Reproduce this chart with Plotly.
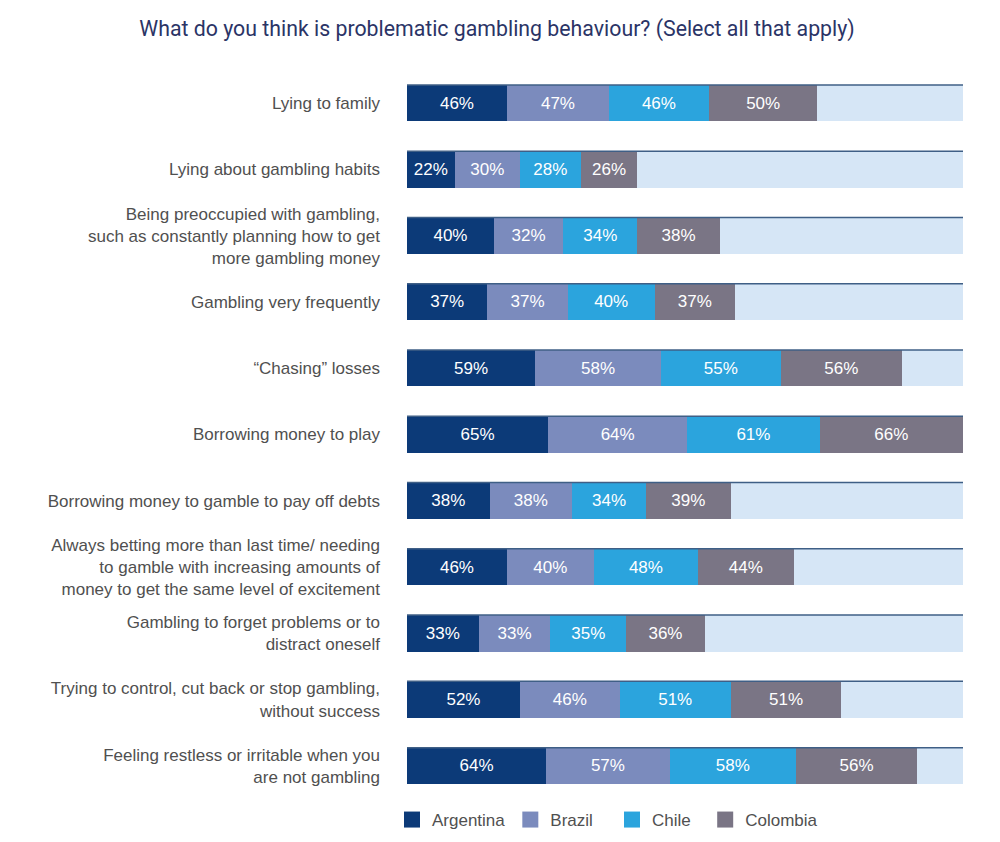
import plotly.graph_objects as go

categories = [
    "Lying to family",
    "Lying about gambling habits",
    "Being preoccupied with gambling,<br>such as constantly planning how to get<br>more gambling money",
    "Gambling very frequently",
    "\u201cChasing\u201d losses",
    "Borrowing money to play",
    "Borrowing money to gamble to pay off debts",
    "Always betting more than last time/ needing<br>to gamble with increasing amounts of<br>money to get the same level of excitement",
    "Gambling to forget problems or to<br>distract oneself",
    "Trying to control, cut back or stop gambling,<br>without success",
    "Feeling restless or irritable when you<br>are not gambling",
]
argentina = [46, 22, 40, 37, 59, 65, 38, 46, 33, 52, 64]
brazil = [47, 30, 32, 37, 58, 64, 38, 40, 33, 46, 57]
chile = [46, 28, 34, 40, 55, 61, 34, 48, 35, 51, 58]
colombia = [50, 26, 38, 37, 56, 66, 39, 44, 36, 51, 56]
series_names = ["Argentina", "Brazil", "Chile", "Colombia"]
legend_pad = [0, 3, 2, 0]  # extra spacing after each legend entry (non-breaking spaces)
colors = ["#0c3a78", "#7b8bbd", "#2ba4dd", "#7a7585"]
bg_color = "#d6e6f6"
line_color = "#3f5f86"

series = [argentina, brazil, chile, colombia]
totals = [sum(v) for v in zip(*series)]
full = max(totals)
rest = [full - t for t in totals]
ypos = list(range(len(categories)))
bw = 0.55

fig = go.Figure()
for name, vals, col in zip(series_names, series, colors):
    fig.add_trace(go.Bar(
        y=ypos, x=vals, orientation="h", name=name, width=bw,
        marker=dict(color=col, line=dict(width=0)),
        text=[f"{v}%" for v in vals], textposition="inside",
        insidetextanchor="middle", constraintext="none",
        textfont=dict(color="white", size=17, family="Liberation Sans, Arial"),
        showlegend=False, hoverinfo="skip",
    ))
fig.add_trace(go.Bar(
    y=ypos, x=rest, orientation="h", width=bw,
    marker=dict(color=bg_color, line=dict(width=0)),
    showlegend=False, hoverinfo="skip",
))
# legend entries
for name, col, pad in zip(series_names, colors, legend_pad):
    fig.add_trace(go.Scatter(
        x=[None], y=[None], mode="markers", name=name + "\u00a0" * pad,
        marker=dict(symbol="square", size=16, color=col),
    ))

for y in ypos:
    fig.add_shape(type="line", xref="x", yref="y", x0=0, x1=full,
                  y0=y - bw / 2, y1=y - bw / 2,
                  line=dict(color=line_color, width=1.5))

fig.update_layout(
    width=1000, height=842,
    barmode="stack",
    plot_bgcolor="white", paper_bgcolor="white",
    margin=dict(l=407, r=37, t=70, b=43, autoexpand=False),
    title=dict(
        text="What do you think is problematic gambling behaviour? (Select all that apply)",
        x=0.497, xanchor="center", y=1 - 29 / 842, yanchor="middle",
        font=dict(family="Roboto", size=21.3, color="#2b3466"),
    ),
    xaxis=dict(range=[0, full], visible=False, fixedrange=True),
    yaxis=dict(
        range=[len(categories) - 0.5, -0.5],
        tickvals=ypos, ticktext=categories,
        showgrid=False, zeroline=False, showline=False, ticks="",
        ticklabelstandoff=26,
        tickfont=dict(family="Liberation Sans, Arial", size=17, color="#505050"),
    ),
    legend=dict(
        orientation="h", traceorder="normal",
        xref="container", yref="container",
        x=0.392, xanchor="left", y=1 - 820 / 842, yanchor="middle",
        font=dict(family="Liberation Sans, Arial", size=17, color="#505050"),
        itemclick=False, itemdoubleclick=False,
    ),
    showlegend=True,
)

fig.write_html("out.html")
